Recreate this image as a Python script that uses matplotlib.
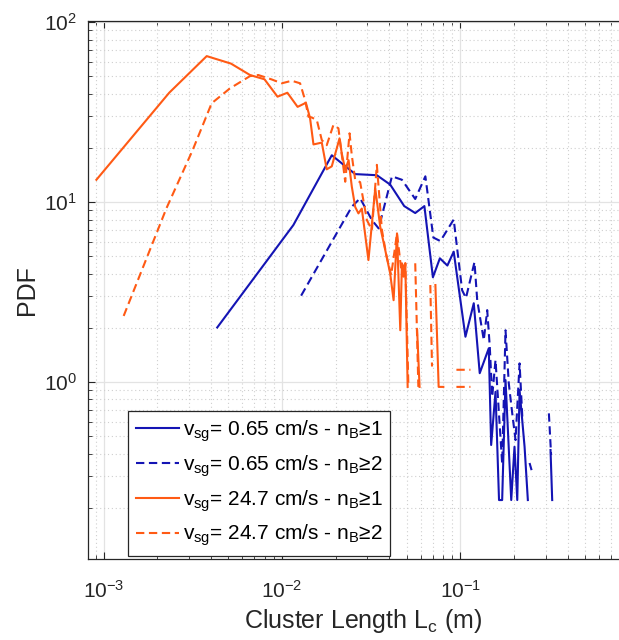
import numpy as np
import matplotlib
matplotlib.use("Agg")
import matplotlib.pyplot as plt

plt.rcParams['font.family'] = ['Liberation Sans', 'DejaVu Sans']
plt.rcParams['mathtext.fontset'] = 'custom'
plt.rcParams['mathtext.rm'] = 'Liberation Sans'
plt.rcParams['mathtext.it'] = 'Liberation Sans'
plt.rcParams['mathtext.default'] = 'regular'

nan = np.nan

# v_sg = 0.65 cm/s, n_B >= 1
x_b1 = [4.33e-3, 1.157e-2, 1.90e-2, 2.57e-2, 3.40e-2, 4.04e-2, 4.84e-2, 5.58e-2, 6.28e-2,
        7.01e-2, 7.67e-2, 8.45e-2, 9.17e-2, 0.1067, 0.1188, 0.1283, 0.1442, 0.1487, 0.1573,
        0.1646, 0.1714, 0.179, 0.1927, 0.201, 0.2083, 0.2146, 0.2289, 0.2388, nan, 0.320, 0.327]
y_b1 = [2.01, 7.45, 18.2, 14.3, 14.1, 12.5, 9.5, 8.69, 9.5,
        3.82, 4.87, 4.44, 5.30, 1.785, 2.74, 1.12, 1.54, 0.447, 0.883,
        0.221, 0.221, 1.026, 0.221, 0.437, 0.221, 0.903, 0.437, 0.221, nan, 0.419, 0.221]

# v_sg = 0.65 cm/s, n_B >= 2
x_b2 = [1.279e-2, 2.46e-2, 2.74e-2, 3.19e-2, 3.48e-2, 4.13e-2, 4.70e-2, 5.58e-2, 6.36e-2,
        7.05e-2, 7.72e-2, 9.17e-2, 0.1022, 0.1074, 0.1199, 0.1242, 0.1352, 0.1413, 0.1461,
        0.1507, 0.1573, 0.1714, 0.179, 0.1867, 0.1952, 0.2037, 0.2146, 0.2228, nan,
        0.2441, 0.2506, nan, 0.3133, 0.3224]
y_b2 = [3.02, 9.42, 10.5, 7.94, 7.14, 13.9, 13.3, 10.4, 13.9,
        6.35, 6.07, 8.0, 3.24, 2.93, 4.64, 2.85, 1.71, 2.51, 1.57,
        0.829, 1.325, 0.353, 1.94, 0.983, 0.67, 0.476, 1.27, 0.615, nan,
        0.355, 0.324, nan, 0.67, 0.393]

# v_sg = 24.7 cm/s, n_B >= 1
x_o1 = [9.1e-4, 2.33e-3, 3.78e-3, 5.17e-3, 6.61e-3, 7.97e-3, 9.43e-3, 1.071e-2, 1.222e-2,
        1.36e-2, 1.435e-2, 1.50e-2, 1.67e-2, 1.78e-2, 1.90e-2, 2.10e-2, 2.16e-2, 2.26e-2,
        2.36e-2, 2.46e-2, 2.57e-2, 2.68e-2, 2.80e-2, 3.05e-2, 3.33e-2, 3.55e-2, 3.79e-2,
        4.04e-2, 4.22e-2, 4.41e-2, 4.60e-2, 4.70e-2, 4.80e-2, 4.91e-2, 5.06e-2, nan,
        5.72e-2, 5.90e-2, nan, 7.24e-2, 7.55e-2, 8.02e-2]
y_o1 = [13.3, 40.5, 64.7, 58.8, 50.8, 48.1, 38.5, 40.5, 33.8,
        35.6, 29.3, 20.9, 21.4, 15.2, 15.8, 22.6, 18.7, 15.1,
        17.1, 12.2, 9.4, 8.65, 9.2, 4.76, 11.9, 7.3, 5.4,
        4.0, 2.85, 6.7, 1.94, 4.57, 3.85, 4.57, 0.94, nan,
        1.94, 0.94, nan, 3.46, 0.94, 0.94]

# v_sg = 24.7 cm/s, n_B >= 2
x_o2 = [1.294e-3, 2.25e-3, 3.15e-3, 4.03e-3, 5.10e-3, 6.61e-3, 7.36e-3, 8.75e-3, 9.96e-3,
        1.134e-2, 1.262e-2, 1.346e-2, 1.406e-2, 1.469e-2, 1.567e-2, 1.67e-2, 1.78e-2, 1.94e-2,
        2.07e-2, 2.26e-2, 2.39e-2, 2.46e-2, 2.57e-2, 2.74e-2, 2.99e-2, 3.19e-2, 3.40e-2,
        3.63e-2, 3.84e-2, 4.09e-2, 4.41e-2, 4.66e-2, 4.91e-2, 5.11e-2, nan, 5.58e-2, 5.81e-2,
        nan, 6.78e-2, 6.93e-2, nan, 9.495e-2, 0.1138, nan, 9.495e-2, 0.1138]
y_o2 = [2.33, 9.26, 19.4, 35.4, 42.8, 50.1, 50.8, 48.0, 45.7,
        47.2, 45.7, 36.9, 29.8, 29.5, 28.5, 22.1, 20.7, 26.8,
        25.7, 12.97, 24.1, 18.2, 13.3, 12.9, 7.94, 6.99, 16.1,
        6.99, 5.08, 3.93, 6.7, 4.19, 4.57, 0.94, nan, 4.57, 0.94,
        nan, 3.46, 1.22, nan, 1.17, 1.17, nan, 0.94, 0.94]

labels = [r'v$_{sg}$= 0.65 cm/s - n$_B$≥1',
          r'v$_{sg}$= 0.65 cm/s - n$_B$≥2',
          r'v$_{sg}$= 24.7 cm/s - n$_B$≥1',
          r'v$_{sg}$= 24.7 cm/s - n$_B$≥2']

blue = '#1414b4'
orange = '#ff5a14'
dash = (4, 2.2)

fig = plt.figure(figsize=(6.19, 6.40), dpi=100)
ax = fig.add_axes([0.1427, 0.1266, 0.888, 0.8406])

ax.plot(x_b1, y_b1, '-', color=blue, lw=1.5, label=labels[0])
ax.plot(x_b2, y_b2, '--', color=blue, lw=1.5, dashes=dash, label=labels[1])
ax.plot(x_o1, y_o1, '-', color=orange, lw=1.5, label=labels[2])
ax.plot(x_o2, y_o2, '--', color=orange, lw=1.5, dashes=dash, label=labels[3])

ax.set_xscale('log')
ax.set_yscale('log')
ax.set_xlim(8.2e-4, 0.99)
ax.set_ylim(0.104, 101.4)

ax.grid(True, which='major', color='#e3e3e3', lw=0.9, ls='-')
ax.grid(True, which='minor', color='#cfcfcf', lw=0.8, ls=(0, (1, 2.5)))
ax.set_axisbelow(True)

for s in ['top', 'bottom', 'left']:
    ax.spines[s].set_color('#262626')
    ax.spines[s].set_linewidth(0.9)
ax.spines['right'].set_visible(False)
ax.tick_params(which='both', direction='in', top=True, right=False,
               colors='#262626', labelsize=15)
ax.tick_params(which='major', length=5, width=0.8)
ax.tick_params(which='minor', length=3, width=0.6)
ax.tick_params(axis='x', pad=15)
ax.tick_params(axis='y', pad=8)

ax.set_xlabel(r'Cluster Length L$_c$ (m)', fontsize=18, color='#262626', labelpad=4)
ax.set_ylabel('PDF', fontsize=18, color='#262626', labelpad=4)

leg = ax.legend(loc='lower left', bbox_to_anchor=(0.0728, 0.006), borderaxespad=0,
                fontsize=15, fancybox=False, edgecolor='#262626', framealpha=1,
                handlelength=2.1, labelspacing=0.45, handletextpad=0.15, borderpad=0.35)
leg.get_frame().set_linewidth(0.9)

fig.savefig('out.png', dpi=100)
